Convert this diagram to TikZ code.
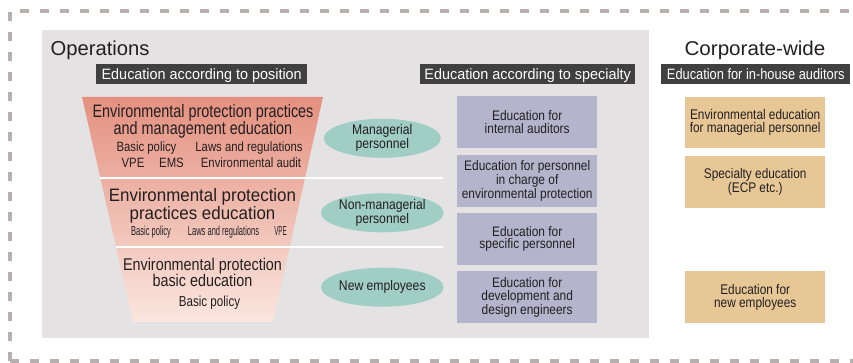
\documentclass[tikz,border=0pt]{standalone}
\usepackage{fontspec}
\setmainfont{Liberation Sans}
\usepackage{tikz}
\usetikzlibrary{shapes.geometric}
\usetikzlibrary{positioning}
\definecolor{panelgray}{HTML}{E4E2E3}
\definecolor{framegray}{HTML}{B8B0B0}
\definecolor{headdark}{HTML}{404040}
\definecolor{funneltop}{HTML}{E4907F}
\definecolor{funnelbot}{HTML}{FAE6DF}
\definecolor{ovalteal}{HTML}{A0CDC4}
\definecolor{boxlilac}{HTML}{B5B4CD}
\definecolor{boxsand}{HTML}{E8C796}
\definecolor{ink}{HTML}{231F20}
\newcommand{\fz}[3]{\fontsize{#1}{#2}\selectfont\addfontfeature{FakeStretch=#3}}

\begin{document}
\begin{tikzpicture}[x=1pt,y=-1pt,
  every node/.style = {text=ink,inner sep=0pt},
  headbar/.style = {fill=headdark,text=white,anchor=north west,
        minimum height=20pt,text height=11pt,text depth=0pt,font=\fz{15}{15}{.96}},
  specbox/.style = {fill=boxlilac,minimum width=140pt,minimum height=52pt,
        anchor=north west,align=center,font=\fz{13.8}{12.8}{.865}},
  corpbox/.style = {fill=boxsand,minimum width=140pt,minimum height=52pt,
        anchor=north west,align=center,font=\fz{14}{12.8}{.845}},
  role/.style = {ellipse,fill=ovalteal,minimum width=117pt,minimum height=39pt,
        align=center,font=\fz{14}{11}{.87}},
  item/.style = {anchor=base}]
 \useasboundingbox (0,0) rectangle (853,363);
 % dashed frame and grey panel
 \draw[framegray,line width=4pt,dash pattern=on 9pt off 11pt] (10,361) -- (10,11) -- (880,11);
 \draw[framegray,line width=4pt,dash pattern=on 9pt off 11pt] (10,361) -- (880,361);
 \fill[panelgray] (42,30) rectangle (649,338);
 \node[anchor=base west,font=\fz{20.2}{20}{1}] (ops) at (50.5,56) {Operations};
 \node[anchor=base,font=\fz{20}{20}{1.03}] (corp) at (755,56) {Corporate-wide};
 \node[headbar,minimum width=211pt] (hpos) at (96,64) {Education according to position};
 \node[headbar,minimum width=215pt] (hspec) at (420,64) {Education according to specialty};
 \node[headbar,minimum width=189pt,font=\fz{15}{15}{.855}] (haud) at (661,64) {Education for in-house auditors};
 % funnel
 \shade[top color=funneltop,bottom color=funnelbot] (82,97) -- (323,97) -- (273,322) -- (133,322) -- cycle;
 \draw[white,line width=2.5pt] (100,178) -- (443,178);
 \draw[white,line width=2.5pt] (115.5,247) -- (443,247);
 \node[align=center,font=\fz{18}{15.5}{.8}] (t1) at (203,121.4)
      {Environmental protection practices\\and management education};
 \begin{scope}[every node/.append style={font=\fz{13.5}{13.5}{.84}}]
  \node[item] (t1pol) at (146.5,151.5) {Basic policy};
  \node[item] (t1law) at (249,151.5) {Laws and regulations};
  \node[item] (t1vpe) at (133,167.5) {VPE};
  \node[item] (t1ems) at (171.5,167.5) {EMS};
  \node[item] (t1aud) at (251,167.5) {Environmental audit};
 \end{scope}
 \node[align=center,font=\fz{18}{16.6}{.94}] (t2) at (202.5,205.7)
      {Environmental protection\\practices education};
 \begin{scope}[every node/.append style={font=\fz{13}{13}{.58}}]
  \node[item] (t2pol) at (151,235.7) {Basic policy};
  \node[item] (t2law) at (223.5,235.7) {Laws and regulations};
  \node[item,font=\fz{13}{13}{.48}] (t2vpe) at (280.5,235.7) {VPE};
 \end{scope}
 \node[align=center,font=\fz{17}{16}{.845}] (t3) at (202.5,272.6)
      {Environmental protection\\basic education};
 \node[item,font=\fz{14.5}{14.5}{.8}] (t3pol) at (209.5,306.7) {Basic policy};
 % personnel
 \node[role] (mgr) at (382.3,138.3) {Managerial\\personnel};
 \node[role] (nonmgr) at (382.3,212.8) {Non-managerial\\personnel};
 \node[role] (newemp) at (382.3,287.2) {New employees};
 % specialty
 \node[specbox] (sp1) at (457,96) {Education for\\internal auditors};
 \node[specbox,below=6pt of sp1] (sp2) {Education for personnel\\in charge of\\environmental protection};
 \node[specbox,below=6pt of sp2] (sp3) {Education for\\specific personnel};
 \node[specbox,below=6pt of sp3] (sp4) {Education for\\development and\\design engineers};
 % corporate-wide
 \node[corpbox,minimum height=51pt] (cw1) at (685,97) {Environmental education\\for managerial personnel};
 \node[corpbox,below=7pt of cw1] (cw2) {Specialty education\\(ECP etc.)};
 \node[corpbox] (cw3) at (685,271) {Education for\\new employees};
\end{tikzpicture}
\end{document}
